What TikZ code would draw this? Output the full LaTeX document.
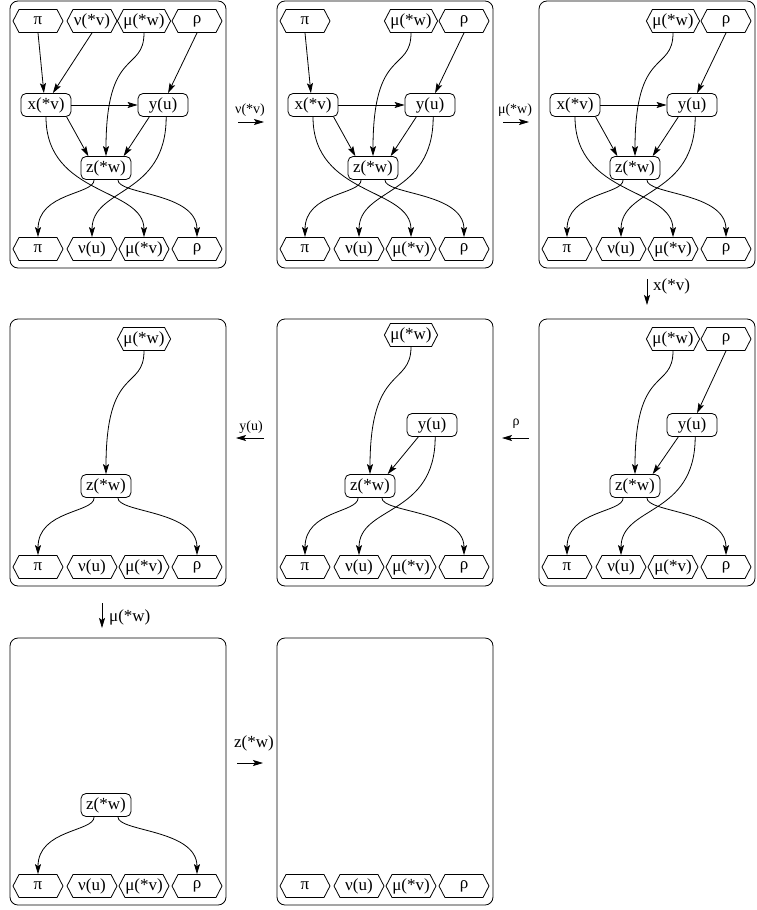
\documentclass[tikz,border=0pt]{standalone}
\usepackage{fontspec}
\setmainfont{Liberation Serif}
\usetikzlibrary{arrows.meta,shapes.symbols}

% frame of one stage and its four output ports
\newcommand{\outrow}[1]{%
  \draw[stage] (0,0) rectangle (216,267);
  \node[hexa] (#1bpi)  at (28,248)  {π};
  \node[hexa] (#1bnu)  at (82,248)  {ν(u)};
  \node[hexa] (#1bmu)  at (134,248) {μ(*v)};
  \node[hexa] (#1brho) at (187,248) {ρ};
}
% z feeds the first and the last port
\newcommand{\zout}[1]{%
  \draw[line] (#1z.-135) .. controls +(0,15) and +(0,-45) .. (#1bpi.north);
  \draw[line] (#1z.-45) .. controls +(0,15) and +(0,-45) .. (#1brho.north);
}
% x, y, z with everything between them
\newcommand{\fullcore}[1]{%
  \node[var] (#1x) at (36,104) {x(*v)};
  \node[var] (#1y) at (153,104) {y(u)};
  \node[var] (#1z) at (96,167) {z(*w)};
  \draw[line] (#1x) -- (#1y);
  \draw[line] (#1x.-30) -- (#1z.146);
  \draw[line] (#1y.-139) -- (#1z.34);
  \draw[line] (#1x.south) .. controls +(0,80) and +(0,-50) .. (#1bmu.north);
  \draw[line] (#1y.-75) .. controls +(0,80) and +(0,-50) .. (#1bnu.north);
  \zout{#1}
}

\begin{document}
\begin{tikzpicture}[
  x=1pt, y=-1pt,
  font=\fontsize{17}{20}\selectfont,
  line/.style={-{Stealth[length=10pt,width=6pt,inset=2pt]}, line width=0.8pt},
  stage/.style={draw, rounded corners=8pt, line width=0.8pt},
  hexa/.style={signal, signal to=west and east, signal pointer angle=125, draw, line width=0.8pt,
    minimum width=50pt, minimum height=23pt, inner sep=0pt},
  var/.style={rectangle, rounded corners=5pt, draw, line width=0.8pt,
    minimum width=50pt, minimum height=23pt, inner sep=0pt},
  tlabel/.style={font=\fontsize{14}{16}\selectfont, inner sep=0pt}
]
\useasboundingbox (0,0) rectangle (756,910);

% Stage 1
\begin{scope}[shift={(10,1)}]
  \outrow{a}
  \node[hexa] (atpi)  at (28,20)  {π};
  \node[hexa] (atnu)  at (82,20)  {ν(*v)};
  \node[hexa] (atmu)  at (134,20) {μ(*w)};
  \node[hexa] (atrho) at (187,20) {ρ};
  \fullcore{a}
  \draw[line] (atpi.south) -- (ax.100);
  \draw[line] (atnu.south) -- (ax.60);
  \draw[line] (atmu.south) .. controls +(0,40) and +(0,-110) .. (az.north);
  \draw[line] (atrho.south) -- (ay.67);
\end{scope}

% Stage 2
\begin{scope}[shift={(277,1)}]
  \outrow{b}
  \node[hexa] (btpi)  at (28,20)  {π};
  \node[hexa] (btmu)  at (134,20) {μ(*w)};
  \node[hexa] (btrho) at (187,20) {ρ};
  \fullcore{b}
  \draw[line] (btpi.south) -- (bx.100);
  \draw[line] (btmu.south) .. controls +(0,40) and +(0,-110) .. (bz.north);
  \draw[line] (btrho.south) -- (by.67);
\end{scope}

% Stage 3
\begin{scope}[shift={(539,1)}]
  \outrow{c}
  \node[hexa] (ctmu)  at (134,20) {μ(*w)};
  \node[hexa] (ctrho) at (187,20) {ρ};
  \fullcore{c}
  \draw[line] (ctmu.south) .. controls +(0,40) and +(0,-110) .. (cz.north);
  \draw[line] (ctrho.south) -- (cy.67);
\end{scope}

% Stage 4
\begin{scope}[shift={(539,319)}]
  \outrow{d}
  \node[hexa] (dtmu)  at (134,20) {μ(*w)};
  \node[hexa] (dtrho) at (187,20) {ρ};
  \node[var] (dy) at (153,106) {y(u)};
  \node[var] (dz) at (96,167) {z(*w)};
  \draw[line] (dtmu.south) .. controls +(0,40) and +(0,-110) .. (dz.north);
  \draw[line] (dtrho.south) -- (dy.67);
  \draw[line] (dy.-139) -- (dz.34);
  \draw[line] (dy.-75) .. controls +(0,80) and +(0,-50) .. (dbnu.north);
  \zout{d}
\end{scope}

% Stage 5
\begin{scope}[shift={(277,319)}]
  \outrow{e}
  \node[hexa] (etmu) at (134,16) {μ(*w)};
  \node[var] (ey) at (155,106) {y(u)};
  \node[var] (ez) at (93,167) {z(*w)};
  \draw[line] (etmu.south) .. controls +(0,40) and +(0,-110) .. (ez.north);
  \draw[line] (ey.-139) -- (ez.34);
  \draw[line] (ey.-75) .. controls +(0,80) and +(0,-50) .. (ebnu.north);
  \zout{e}
\end{scope}

% Stage 6
\begin{scope}[shift={(10,319)}]
  \outrow{f}
  \node[hexa] (ftmu) at (134,20) {μ(*w)};
  \node[var] (fz) at (96,167) {z(*w)};
  \draw[line] (ftmu.south) .. controls +(0,40) and +(0,-110) .. (fz.north);
  \zout{f}
\end{scope}

% Stage 7
\begin{scope}[shift={(10,638)}]
  \outrow{g}
  \node[var] (gz) at (96,167) {z(*w)};
  \zout{g}
\end{scope}

% Stage 8
\begin{scope}[shift={(277,638)}]
  \outrow{h}
\end{scope}

% Transitions
\node[tlabel] (lnu) at (250,110) {ν(*v)};
\coordinate (lnua) at (238,122);
\coordinate (lnub) at (264,122);
\draw[line] (lnua) -- (lnub);

\node[tlabel] (lmu) at (515,110) {μ(*w)};
\coordinate (lmua) at (503,122);
\coordinate (lmub) at (529,122);
\draw[line] (lmua) -- (lmub);

\node[anchor=west, inner sep=0pt] (lx) at (653,286) {x(*v)};
\coordinate (lxa) at (647,279);
\coordinate (lxb) at (647,305);
\draw[line] (lxa) -- (lxb);

\node[tlabel] (lrho) at (516,424) {ρ};
\coordinate (lrhoa) at (529,438);
\coordinate (lrhob) at (502,438);
\draw[line] (lrhoa) -- (lrhob);

\node[tlabel] (ly) at (251,427) {y(u)};
\coordinate (lya) at (264,438);
\coordinate (lyb) at (236,438);
\draw[line] (lya) -- (lyb);

\node[anchor=west, inner sep=0pt] (lmw) at (109,617) {μ(*w)};
\coordinate (lmwa) at (102,603);
\coordinate (lmwb) at (102,628);
\draw[line] (lmwa) -- (lmwb);

\node[inner sep=0pt] (lz) at (254,743) {z(*w)};
\coordinate (lza) at (237,763);
\coordinate (lzb) at (263,763);
\draw[line] (lza) -- (lzb);

\end{tikzpicture}
\end{document}
